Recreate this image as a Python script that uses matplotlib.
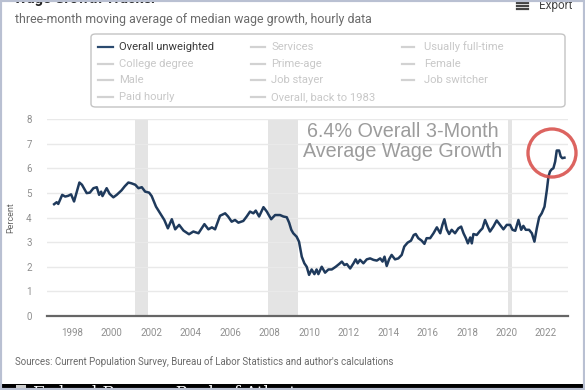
import matplotlib
matplotlib.use("Agg")
import matplotlib.pyplot as plt
from matplotlib.patches import FancyBboxPatch, Rectangle, Ellipse
from matplotlib.lines import Line2D

# ---------------- data ----------------
years = [1997.09, 1997.22, 1997.30, 1997.50, 1997.65, 1997.80, 1997.95, 1998.10, 1998.37, 1998.50,
         1998.74, 1998.90, 1999.08, 1999.25, 1999.37, 1999.47, 1999.54, 1999.75, 1999.90, 2000.09,
         2000.26, 2000.50, 2000.67, 2000.85, 2001.00, 2001.20, 2001.36, 2001.53, 2001.70, 2001.90,
         2002.03, 2002.25, 2002.46, 2002.67, 2002.85, 2003.05, 2003.22, 2003.42, 2003.64, 2003.92,
         2004.14, 2004.40, 2004.70, 2004.90, 2005.08, 2005.24, 2005.49, 2005.75, 2005.90, 2006.08,
         2006.25, 2006.42, 2006.67, 2006.84, 2007.01, 2007.18, 2007.30, 2007.47, 2007.69, 2007.86,
         2008.08, 2008.28, 2008.53, 2008.70, 2008.87, 2008.99, 2009.10, 2009.20, 2009.37, 2009.49,
         2009.63, 2009.76, 2009.88, 2010.00, 2010.13, 2010.27, 2010.38, 2010.47, 2010.64, 2010.81,
         2010.98, 2011.15, 2011.35, 2011.52, 2011.66, 2011.79, 2011.91, 2012.08, 2012.25, 2012.36,
         2012.46, 2012.58, 2012.75, 2012.92, 2013.09, 2013.26, 2013.43, 2013.60, 2013.72, 2013.82,
         2013.93, 2014.05, 2014.18, 2014.35, 2014.52, 2014.69, 2014.82, 2014.99, 2015.16, 2015.30,
         2015.40, 2015.53, 2015.70, 2015.84, 2015.95, 2016.13, 2016.30, 2016.47, 2016.64, 2016.75,
         2016.85, 2016.97, 2017.09, 2017.22, 2017.39, 2017.56, 2017.70, 2017.82, 2017.94, 2018.04,
         2018.16, 2018.24, 2018.32, 2018.49, 2018.66, 2018.78, 2018.91, 2019.05, 2019.16, 2019.33,
         2019.50, 2019.67, 2019.84, 2020.01, 2020.18, 2020.30, 2020.44, 2020.60, 2020.74, 2020.85,
         2020.97, 2021.14, 2021.28, 2021.41, 2021.53, 2021.65, 2021.78, 2021.92, 2022.04, 2022.12,
         2022.20, 2022.29, 2022.37, 2022.46, 2022.54, 2022.66, 2022.74, 2022.82, 2022.93]
wage_growth = [4.54, 4.62, 4.55, 4.92, 4.85, 4.88, 4.94, 4.65, 5.42, 5.33,
               4.99, 5.01, 5.19, 5.23, 4.92, 5.05, 4.87, 5.19, 4.96, 4.82,
               4.92, 5.10, 5.27, 5.42, 5.39, 5.33, 5.19, 5.23, 5.05, 5.01,
               4.87, 4.44, 4.17, 3.90, 3.56, 3.93, 3.52, 3.70, 3.47, 3.32,
               3.43, 3.36, 3.73, 3.52, 3.60, 3.52, 4.07, 4.17, 4.04, 3.83,
               3.90, 3.79, 3.86, 4.04, 4.24, 4.17, 4.28, 4.04, 4.42, 4.24,
               3.93, 4.10, 4.10, 4.04, 4.01, 3.79, 3.50, 3.36, 3.22, 3.02,
               2.41, 2.14, 2.00, 1.67, 1.89, 1.70, 1.89, 1.70, 2.00, 1.76,
               1.89, 1.89, 2.00, 2.11, 2.21, 2.07, 2.11, 1.93, 2.14, 2.30,
               2.14, 2.28, 2.14, 2.30, 2.34, 2.28, 2.25, 2.34, 2.21, 2.41,
               2.03, 2.30, 2.48, 2.30, 2.34, 2.48, 2.82, 2.98, 3.06, 3.29,
               3.33, 3.16, 3.06, 2.93, 3.16, 3.16, 3.36, 3.60, 3.36, 3.70,
               3.93, 3.52, 3.33, 3.50, 3.36, 3.56, 3.63, 3.36, 3.16, 2.95,
               3.19, 2.95, 3.33, 3.29, 3.46, 3.56, 3.90, 3.63, 3.43, 3.63,
               3.88, 3.70, 3.52, 3.70, 3.70, 3.50, 3.46, 3.90, 3.50, 3.66,
               3.50, 3.50, 3.36, 3.02, 3.56, 4.01, 4.17, 4.44, 5.12, 5.66,
               5.87, 5.96, 6.00, 6.27, 6.72, 6.72, 6.48, 6.41, 6.43]

recession_starts = [2001.17, 2007.92, 2020.08]
recession_ends = [2001.83, 2009.42, 2020.29]

xtick_years = [1998, 2000, 2002, 2004, 2006, 2008, 2010, 2012, 2014, 2016, 2018, 2020, 2022]
ytick_values = [0, 1, 2, 3, 4, 5, 6, 7, 8]

legend_labels = [["Overall unweighted", "Services", "Usually full-time"],
                 ["College degree", "Prime-age", "Female"],
                 ["Male", "Job stayer", "Job switcher"],
                 ["Paid hourly", "Overall, back to 1983", None]]

# ---------------- figure ----------------
W, H = 585, 390
fig = plt.figure(figsize=(W / 100, H / 100), dpi=100)
fig.patch.set_facecolor("white")
FONT = "Roboto"

def fx(px):
    return px / W

def fy(py):
    return 1 - py / H

ax = fig.add_axes([fx(47), fy(316), fx(568) - fx(47), fy(119) - fy(316)])
ax.set_xlim(1996.73, 2023.11)
ax.set_ylim(0, 8)

for s, e in zip(recession_starts, recession_ends):
    ax.axvspan(s, e, color="#e4e4e4", lw=0, zorder=0)

ax.set_yticks(ytick_values)
ax.set_xticks(xtick_years)
ax.grid(axis="y", color="#e9e9e9", lw=1.0)
ax.set_axisbelow(True)
for sp in ["top", "right", "left"]:
    ax.spines[sp].set_visible(False)
ax.spines["bottom"].set_color("#666666")
ax.spines["bottom"].set_linewidth(1.6)
ax.tick_params(axis="both", length=0, labelsize=7, labelcolor="#8f8f8f")
ax.tick_params(axis="x", pad=9)
ax.tick_params(axis="y", pad=11)
for lbl in ax.get_xticklabels() + ax.get_yticklabels():
    lbl.set_fontfamily(FONT)
ax.set_ylabel("Percent", fontsize=6.5, color="#666666", family=FONT, labelpad=8)

ax.plot(years, wage_growth, color="#1f3a5c", lw=1.8, zorder=3, solid_joinstyle="round")

# annotation text
ax.text(0.682, 0.885, "6.4% Overall 3-Month\nAverage Wage Growth", transform=ax.transAxes,
        ha="center", va="center", fontsize=14.2, color="#9c9c9c", family="Liberation Sans",
        linespacing=1.05, zorder=4)

# red circle
fig.patches.append(Ellipse((fx(552), fy(153)), 48 / W, 48 / H, transform=fig.transFigure,
                           fill=False, edgecolor="#d9534f", lw=2.4, alpha=0.9))

# ---------------- header ----------------
fig.text(fx(14), fy(3), "Wage Growth Tracker", fontsize=10.5, fontweight="bold", color="#222222",
         family=FONT, ha="left", va="baseline")
fig.text(fx(15), fy(19.5), "three-month moving average of median wage growth, hourly data",
         fontsize=8.9, color="#6a6a6a", family=FONT, ha="left", va="center")
fig.text(fx(539), fy(5), "Export", fontsize=8.5, color="#444444", family=FONT, ha="left", va="center")
for dy in (1.5, 4.5, 7.5):
    fig.add_artist(Line2D([fx(517), fx(528)], [fy(dy + 1), fy(dy + 1)], color="#444444", lw=1.6,
                          transform=fig.transFigure))

# ---------------- legend ----------------
fig.patches.append(FancyBboxPatch((fx(91), fy(107)), fx(565) - fx(91), fy(34) - fy(107),
                                  boxstyle="round,pad=0,rounding_size=0.008",
                                  transform=fig.transFigure, fill=False,
                                  edgecolor="#c4c4c4", lw=1.0))
col_line = [(98, 113), (251, 265), (402, 414)]
col_text = [119, 271, 424]
row_y = [47, 63.7, 80.3, 97]
for r, row in enumerate(legend_labels):
    for c, lab in enumerate(row):
        if lab is None:
            continue
        active = (r == 0 and c == 0)
        lc = "#2b4a6f" if active else "#d2d2d2"
        tc = "#3a3a3a" if active else "#c8c8c8"
        fig.add_artist(Line2D([fx(col_line[c][0]), fx(col_line[c][1])], [fy(row_y[r]), fy(row_y[r])],
                              color=lc, lw=1.6, transform=fig.transFigure))
        fig.text(fx(col_text[c]), fy(row_y[r]), lab, fontsize=8.1, color=tc, family=FONT,
                 ha="left", va="center")

# ---------------- footer ----------------
fig.text(fx(15), fy(362), "Sources: Current Population Survey, Bureau of Labor Statistics and author's calculations",
         fontsize=7.0, color="#6a6a6a", family=FONT, ha="left", va="center")
fig.patches.append(Rectangle((0, 0), 1, fy(384), transform=fig.transFigure, facecolor="black",
                             edgecolor="none", zorder=5))
fig.text(fx(33), fy(385), "Federal Reserve Bank of Atlanta", fontsize=12, color="white",
         family="DejaVu Serif", ha="left", va="top", zorder=6)
fig.patches.append(Rectangle((fx(16), fy(390)), 10 / W, 5 / H, transform=fig.transFigure,
                             facecolor="#cccccc", edgecolor="none", zorder=6))

# side frame
fig.patches.append(Rectangle((0, 0), 1, 1, transform=fig.transFigure, fill=False,
                             edgecolor="#b9c0d2", lw=3, zorder=7))

fig.savefig("out.png", dpi=100, facecolor="white")
